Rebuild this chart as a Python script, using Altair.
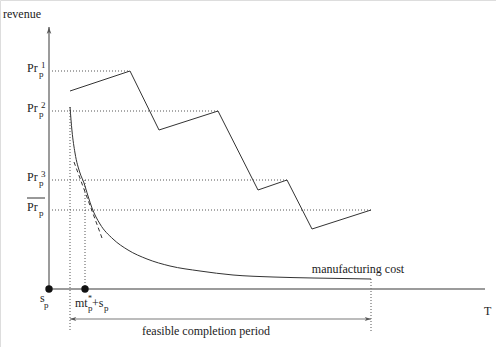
import altair as alt
import pandas as pd

# ---- data (diagram units: T along horizontal axis, revenue along vertical) ----
revenue_T = [21, 81, 110, 169, 209, 238, 263, 322]
revenue_v = [198, 218, 159, 178, 99, 109, 60, 79]

cost_T = [21, 23, 26, 31, 35, 39, 43, 51, 64, 79, 98, 121, 151, 184, 224, 264, 322]
cost_v = [182, 158, 136, 116, 106, 93, 81, 65, 50, 39, 30, 23, 18, 14, 12, 11, 10]

tangent_T = [25, 53]
tangent_v = [127, 51]

price_levels = [218, 178, 109, 79]          # Pr1, Pr2, Pr3, Pr-bar
price_level_end = [81, 169, 238, 322]
price_sup = ["1", "2", "3", ""]

s_p = 0
mt_sp = 36
period_start, period_end = 21, 322
axis_T_max, axis_v_max = 436, 262

# ---- helpers ----
X = alt.Scale(domain=[-49, 447], nice=False, zero=False)
Y = alt.Scale(domain=[-58, 289], nice=False, zero=False)
INK = "#333333"
AXIS = "#7a7a7a"
SERIF = "Liberation Serif, Times New Roman, Times, serif"


def xy():
    return dict(x=alt.X("T:Q", scale=X, axis=None), y=alt.Y("v:Q", scale=Y, axis=None))


def segs(rows):
    return pd.DataFrame(rows, columns=["g", "T", "v"])


# solid curves
rev_df = pd.DataFrame({"T": revenue_T, "v": revenue_v, "o": range(len(revenue_T))})
cost_df = pd.DataFrame({"T": cost_T, "v": cost_v, "o": range(len(cost_T))})
rev = alt.Chart(rev_df).mark_line(color=INK, strokeWidth=1).encode(**xy(), order="o:O")
cost = alt.Chart(cost_df).mark_line(color=INK, strokeWidth=1, interpolate="monotone").encode(**xy(), order="o:O")

tan_df = pd.DataFrame({"T": tangent_T, "v": tangent_v})
tan = alt.Chart(tan_df).mark_line(color=INK, strokeWidth=1, strokeDash=[4, 3]).encode(**xy())

# dotted guide lines
rows = []
for i, (lv, end) in enumerate(zip(price_levels, price_level_end)):
    rows += [(f"h{i}", 3, lv), (f"h{i}", end, lv)]
rows += [("v0", period_start, cost_v[0]), ("v0", period_start, -41)]
rows += [("v1", mt_sp, price_levels[2]), ("v1", mt_sp, 0)]
rows += [("v2", period_end, cost_v[-1]), ("v2", period_end, -43)]
dots_df = segs(rows)
dotted = alt.Chart(dots_df).mark_line(color="#555555", strokeWidth=1, strokeDash=[1, 2]).encode(**xy(), detail="g:N")

# axes
axes_df = segs([("y", s_p, 0), ("y", s_p, axis_v_max), ("x", s_p, 0), ("x", axis_T_max, 0)])
axes = alt.Chart(axes_df).mark_line(color=AXIS, strokeWidth=1.5).encode(**xy(), detail="g:N")

# feasible period arrow line
per_df = segs([("p", period_start, -30), ("p", period_end, -30)])
per = alt.Chart(per_df).mark_line(color=AXIS, strokeWidth=1.2).encode(**xy(), detail="g:N")

# arrowheads (tip at origin, pointing up)
ARROW = "M0,0 L0.5,1.5 L0,1.1 L-0.5,1.5 Z"
heads_df = pd.DataFrame({"T": [s_p, period_start, period_end], "v": [axis_v_max, -30, -30],
                         "a": [0, 270, 90], "s": [85, 70, 70]})
heads = alt.Chart(heads_df).mark_point(shape=ARROW, filled=True, color="#555555", opacity=1).encode(
    **xy(), angle=alt.Angle("a:Q", scale=None), size=alt.Size("s:Q", scale=None)
)

# dots on T axis
pts_df = pd.DataFrame({"T": [s_p, mt_sp], "v": [0, 0]})
pts = alt.Chart(pts_df).mark_circle(color="#111111", size=55, opacity=1).encode(**xy())

# overline for Pr-bar
ol_df = segs([("o", -22, 91), ("o", -4, 91)])
overline = alt.Chart(ol_df).mark_line(color=INK, strokeWidth=1).encode(**xy(), detail="g:N")

# text labels
big_left = []
small_left = []
for lv, sup in zip(price_levels, price_sup):
    big_left.append(("Pr", -22, lv - 1))
    small_left.append(("p", -10, lv - 6))
    if sup:
        small_left.append((sup, -8, lv + 3))
big_left += [("s", -9, -13), ("mt", 26, -18), ("+s", 43, -18), ("T", 435, -26)]
small_left += [("p", -5, -19), ("p", 39, -22), ("p", 55, -22)]
star = [("*", 39, -12)]
centered = [("revenue", -27, 271), ("manufacturing cost", 309, 16), ("feasible completion period", 157, -46)]


def texts(rows, size, align):
    df = pd.DataFrame(rows, columns=["label", "T", "v"])
    return alt.Chart(df).mark_text(
        font=SERIF, fontSize=size, align=align, baseline="alphabetic", color="#222222"
    ).encode(**xy(), text="label:N")


t1 = texts(big_left, 12, "left")
t2 = texts(small_left, 9, "left")
t3 = texts(centered, 12, "center")
t4 = texts(star, 8, "left")

chart = alt.layer(
    dotted, axes, per, tan, cost, rev, heads, pts, overline, t1, t2, t3, t4
).properties(
    width=496, height=347, padding=0, autosize=alt.AutoSizeParams(type="none")
).configure_view(stroke=None).configure(background="white")

chart.save("out.html", embed_options={"renderer": "svg", "actions": False})
